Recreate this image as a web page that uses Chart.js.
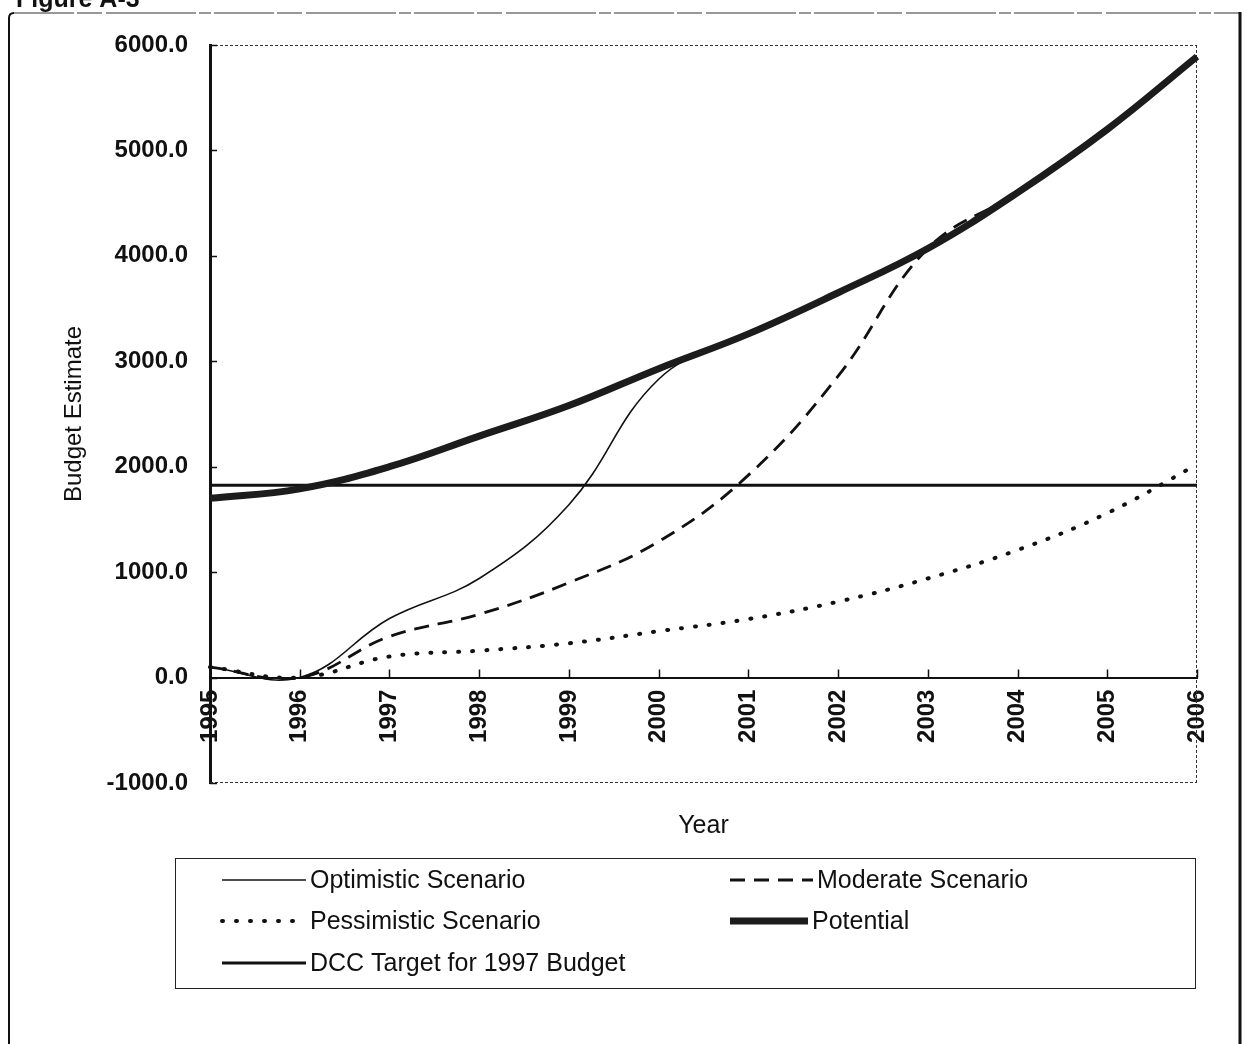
<!DOCTYPE html>
<html>
<head>
<meta charset="utf-8">
<title>Budget Estimate</title>
<script src="https://cdn.jsdelivr.net/npm/chart.js@4/dist/chart.umd.min.js"></script>
<style>
  html, body { margin: 0; padding: 0; background: #fff; overflow: hidden; }
  #wrap { position: relative; width: 1247px; height: 1044px; }
</style>
</head>
<body>
<div id="wrap"><canvas id="c" width="1247" height="1044"></canvas></div>
<script>
// Years on the category axis
const years = ['1995', '1996', '1997', '1998', '1999', '2000', '2001', '2002', '2003', '2004', '2005', '2006'];

// Budget estimates per scenario
const optimistic  = [100, 0, 560, 940, 1640, 2830, 3260, 3650, 4070, 4600, 5200, 5890];
const moderate    = [100, 0, 390, 600, 900, 1290, 1920, 2860, 4070, 4600, 5200, 5890];
const pessimistic = [100, 0, 200, 255, 325, 440, 555, 720, 940, 1210, 1560, 2020];
const potential   = [1700, 1790, 2000, 2290, 2580, 2930, 3260, 3650, 4070, 4600, 5200, 5890];
const dccTarget   = [1825, 1825, 1825, 1825, 1825, 1825, 1825, 1825, 1825, 1825, 1825, 1825];

// Value axis
const yMin = -1000, yMax = 6000, yStep = 1000;

const seriesNames = ['Optimistic Scenario', 'Moderate Scenario', 'Pessimistic Scenario', 'Potential', 'DCC Target for 1997 Budget'];

const FONT = "'Liberation Sans', Arial, Helvetica, sans-serif";
const INK = '#111';

// Page frame, plot border, inward tick marks, axis caption and legend box
const decorations = {
  id: 'decorations',
  beforeDraw(chart) {
    const ctx = chart.ctx;
    ctx.save();
    ctx.fillStyle = '#fff';
    ctx.fillRect(0, 0, chart.width, chart.height);
    ctx.strokeStyle = INK;
    ctx.lineWidth = 2;
    ctx.beginPath();
    ctx.moveTo(9, chart.height);
    ctx.lineTo(9, 18);
    ctx.quadraticCurveTo(9, 13, 14, 13);
    ctx.stroke();
    ctx.lineWidth = 1.2;
    ctx.strokeStyle = '#333';
    ctx.setLineDash([60, 3, 25, 4, 90, 3, 12, 3]);
    ctx.beginPath();
    ctx.moveTo(14, 13);
    ctx.lineTo(1240, 13);
    ctx.stroke();
    ctx.setLineDash([]);
    ctx.strokeStyle = INK;
    ctx.lineWidth = 3;
    ctx.beginPath();
    ctx.moveTo(1240, 12);
    ctx.lineTo(1240, chart.height);
    ctx.stroke();
    // heading cut off by the page edge
    ctx.fillStyle = INK;
    ctx.font = 'bold 25px ' + FONT;
    ctx.textBaseline = 'alphabetic';
    ctx.fillText('Figure A-3', 16, 7);
    ctx.restore();
  },
  beforeDatasetsDraw(chart) {
    const {ctx, chartArea: a} = chart;
    ctx.save();
    ctx.strokeStyle = '#333';
    ctx.lineWidth = 1;
    ctx.setLineDash([3, 2]);
    ctx.beginPath();
    ctx.moveTo(a.left, a.top + 0.5);
    ctx.lineTo(a.right, a.top + 0.5);
    ctx.moveTo(a.right - 0.5, a.top);
    ctx.lineTo(a.right - 0.5, a.bottom);
    ctx.moveTo(a.left, a.bottom - 0.5);
    ctx.lineTo(a.right, a.bottom - 0.5);
    ctx.stroke();
    ctx.setLineDash([]);
    // inward tick marks
    const xs = chart.scales.x, ys = chart.scales.y;
    const y0 = ys.getPixelForValue(0);
    ctx.strokeStyle = INK;
    ctx.lineWidth = 1.5;
    ctx.beginPath();
    xs.ticks.forEach((t, i) => {
      const px = Math.round(xs.getPixelForTick(i)) + 0.5;
      ctx.moveTo(px, y0);
      ctx.lineTo(px, y0 - 8);
    });
    ys.ticks.forEach((t, i) => {
      const py = Math.round(ys.getPixelForTick(i)) + 0.5;
      ctx.moveTo(a.left, py);
      ctx.lineTo(a.left + 7, py);
    });
    ctx.stroke();
    ctx.restore();
  },
  afterDraw(chart) {
    const {ctx, chartArea: a} = chart;
    ctx.save();
    ctx.fillStyle = INK;
    ctx.font = '25px ' + FONT;
    ctx.textAlign = 'center';
    ctx.textBaseline = 'middle';
    ctx.fillText('Year', (a.left + a.right) / 2, 826);

    // legend box
    const box = {x: 175.5, y: 858.5, w: 1020, h: 130};
    ctx.strokeStyle = '#222';
    ctx.lineWidth = 1;
    ctx.strokeRect(box.x, box.y, box.w, box.h);
    const slots = [
      {x1: 222, x2: 306, tx: 310, y: 880},
      {x1: 730, x2: 813, tx: 817, y: 880},
      {x1: 222, x2: 306, tx: 310, y: 921},
      {x1: 730, x2: 808, tx: 812, y: 921},
      {x1: 222, x2: 306, tx: 310, y: 963}
    ];
    ctx.textAlign = 'left';
    ctx.font = '25px ' + FONT;
    chart.data.datasets.forEach((ds, i) => {
      const s = slots[i];
      ctx.save();
      ctx.strokeStyle = ds.borderColor;
      ctx.lineWidth = ds.borderWidth;
      ctx.lineCap = ds.borderCapStyle || 'butt';
      ctx.setLineDash(ds.borderDash || []);
      ctx.beginPath();
      ctx.moveTo(s.x1, s.y);
      ctx.lineTo(s.x2, s.y);
      ctx.stroke();
      ctx.restore();
      ctx.fillText(ds.label, s.tx, s.y + 1);
    });
    ctx.restore();
  }
};

const line = (label, data, extra) => Object.assign({
  label, data,
  borderColor: INK,
  backgroundColor: INK,
  fill: false,
  pointRadius: 0,
  pointHoverRadius: 0,
  tension: 0.4
}, extra);

new Chart(document.getElementById('c'), {
  type: 'line',
  data: {
    labels: years,
    datasets: [
      line(seriesNames[0], optimistic,  {borderWidth: 1.6, order: 3}),
      line(seriesNames[1], moderate,    {borderWidth: 2.8, borderDash: [15, 9], order: 4}),
      line(seriesNames[2], pessimistic, {borderWidth: 4, borderDash: [1, 13], borderCapStyle: 'round', order: 5}),
      line(seriesNames[3], potential,   {borderWidth: 7, borderColor: '#1c1c1c', order: 1}),
      line(seriesNames[4], dccTarget,   {borderWidth: 3, order: 2, tension: 0})
    ]
  },
  options: {
    responsive: false,
    animation: false,
    events: [],
    layout: { padding: { left: 50, right: 50, top: 45, bottom: 261 } },
    plugins: {
      legend: { display: false },
      tooltip: { enabled: false },
      title: { display: false }
    },
    scales: {
      x: {
        type: 'category',
        position: { y: 0 },
        offset: false,
        grid: { display: true, drawOnChartArea: false, drawTicks: false },
        border: { display: true, color: INK, width: 2 },
        ticks: {
          autoSkip: false,
          minRotation: 90,
          maxRotation: 90,
          padding: 12,
          color: INK,
          font: { family: FONT, size: 24, weight: 'bold' }
        }
      },
      y: {
        min: yMin,
        max: yMax,
        grid: { display: true, drawOnChartArea: false, drawTicks: false },
        border: { display: true, color: INK, width: 3 },
        afterFit(scale) { scale.width = 160; },
        ticks: {
          stepSize: yStep,
          padding: 22,
          color: INK,
          font: { family: FONT, size: 24, weight: 'bold' },
          callback: v => Number(v).toFixed(1)
        },
        title: {
          display: true,
          text: 'Budget Estimate',
          color: INK,
          padding: { top: 10, bottom: 0 },
          font: { family: FONT, size: 24 }
        }
      }
    }
  },
  plugins: [decorations]
});
</script>
</body>
</html>
